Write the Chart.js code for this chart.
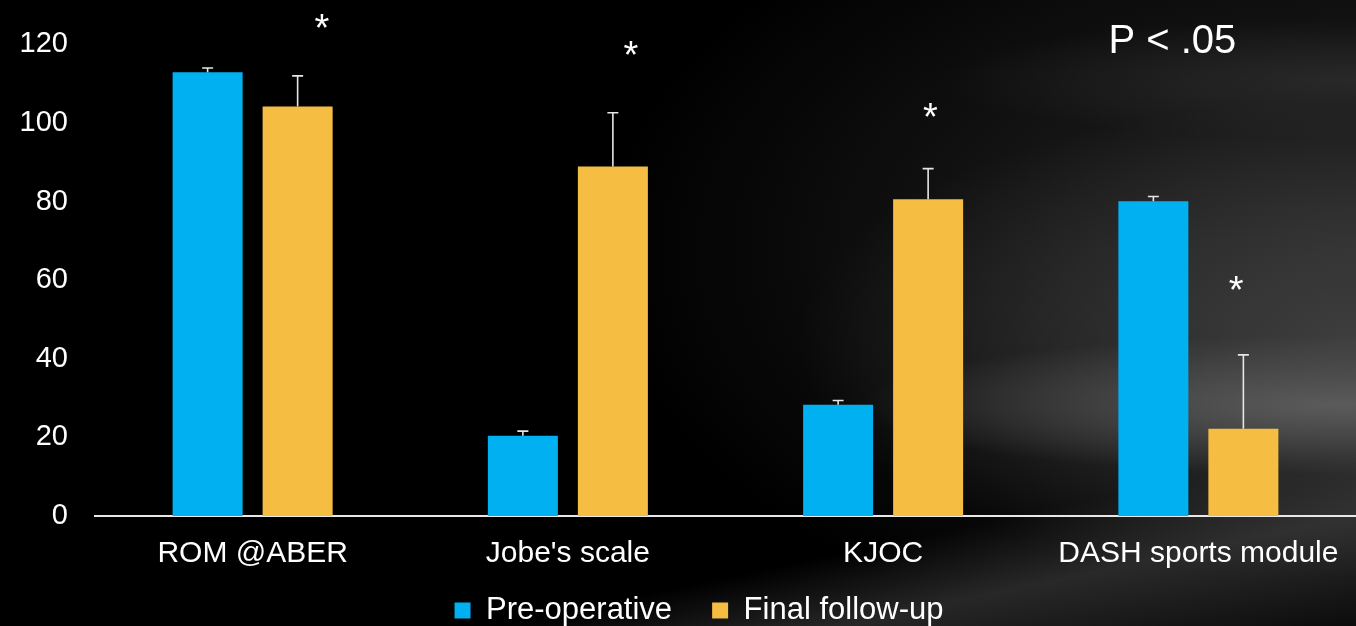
<!DOCTYPE html>
<html>
<head>
<meta charset="utf-8">
<script src="https://cdn.jsdelivr.net/npm/chart.js@4/dist/chart.umd.min.js"></script>
<style>
  html, body { margin: 0; padding: 0; }
  body {
    width: 1356px; height: 626px; overflow: hidden;
    background:
      linear-gradient(168deg, rgba(0,0,0,0) 0%, rgba(0,0,0,0) 80%, rgba(70,70,70,0.55) 88%, rgba(30,30,30,0.3) 100%),
      radial-gradient(ellipse 480px 70px at 1340px 405px, rgba(95,95,95,0.9), rgba(60,60,60,0) 100%),
      radial-gradient(ellipse 560px 240px at 1356px 340px, rgba(65,65,65,0.9), rgba(40,40,40,0) 100%),
      radial-gradient(ellipse 420px 60px at 1356px 80px, rgba(45,45,45,0.8), rgba(40,40,40,0) 100%),
      radial-gradient(ellipse 760px 420px at 1356px 250px, rgba(38,38,38,1), rgba(0,0,0,0) 100%),
      #000;
  }
  .wrap { position: relative; width: 1356px; height: 626px; }
</style>
</head>
<body>
<div class="wrap"><canvas id="chart"></canvas></div>
<script>
  var categories = ["ROM @ABER", "Jobe's scale", "KJOC", "DASH sports module"];
  var preOp = [112.9, 20.4, 28.3, 80.1];
  var finalFu = [104.2, 88.9, 80.6, 22.2];
  // upper error (SD) for each bar
  var preErr = [1.1, 1.2, 1.1, 1.2];
  var finalErr = [7.8, 13.7, 7.8, 18.8];
  // significance stars: x in category units, y in axis units
  var starX = [0.22, 1.20, 2.15, 3.12];
  var starY = [124.7, 117.7, 102.0, 58.0];
  var yTicks = [0, 20, 40, 60, 80, 100, 120];

  var font = "'Liberation Sans', Arial, sans-serif";

  // draws upward error bars, the stars and the p value note
  var extras = {
    id: "extras",
    afterLayout: function(chart) {
      // legend sits a little right of centre and higher in the original
      var lg = chart.legend;
      lg.left += 21;
      lg.right += 21;
      lg.top -= 29;
      lg.bottom -= 29;
    },
    afterDatasetsDraw: function(chart) {
      var ctx = chart.ctx;
      var y = chart.scales.y;
      var x = chart.scales.x;
      var errs = [preErr, finalErr];
      ctx.save();
      ctx.strokeStyle = "#e6e6e6";
      ctx.lineWidth = 1.6;
      for (var d = 0; d < 2; d++) {
        var meta = chart.getDatasetMeta(d);
        var vals = chart.data.datasets[d].data;
        meta.data.forEach(function(bar, i) {
          var top = y.getPixelForValue(vals[i] + errs[d][i]);
          var base = y.getPixelForValue(vals[i]);
          ctx.beginPath();
          ctx.moveTo(bar.x, base);
          ctx.lineTo(bar.x, top);
          ctx.moveTo(bar.x - 5.5, top);
          ctx.lineTo(bar.x + 5.5, top);
          ctx.stroke();
        });
      }
      ctx.fillStyle = "#ffffff";
      ctx.textAlign = "center";
      ctx.textBaseline = "alphabetic";
      ctx.font = "38px " + font;
      for (var i = 0; i < starX.length; i++) {
        ctx.fillText("*", x.getPixelForValue(starX[i]), y.getPixelForValue(starY[i]) + 15);
      }
      ctx.font = "40px " + font;
      ctx.textBaseline = "middle";
      ctx.fillText("P < .05", x.getPixelForValue(3) - 26, y.getPixelForValue(120.7));
      ctx.restore();
    }
  };

  new Chart(document.getElementById("chart"), {
    type: "bar",
    data: {
      labels: categories,
      datasets: [
        { label: "Pre-operative", data: preOp, backgroundColor: "#00B0F0" },
        { label: "Final follow-up", data: finalFu, backgroundColor: "#F5BD41" }
      ]
    },
    options: {
      responsive: true,
      maintainAspectRatio: false,
      animation: false,
      categoryPercentage: 0.571,
      barPercentage: 0.778,
      layout: { padding: { top: 41, right: 0, left: 0, bottom: -39 } },
      plugins: {
        tooltip: { enabled: false },
        legend: {
          position: "bottom",
          labels: {
            color: "#ffffff",
            font: { family: font, size: 31 },
            boxWidth: 16,
            boxHeight: 16,
            padding: 40
          }
        }
      },
      scales: {
        x: {
          grid: { display: false },
          border: { display: true, color: "#e8e8e8", width: 2 },
          ticks: {
            color: "#ffffff",
            font: { family: font, size: 30 },
            padding: 12,
            maxRotation: 0,
            autoSkip: false
          }
        },
        y: {
          min: 0,
          max: 120,
          afterBuildTicks: function(scale) {
            scale.ticks = yTicks.map(function(v) { return { value: v }; });
          },
          afterFit: function(scale) { scale.width = 95; },
          grid: { display: false, drawTicks: false },
          border: { display: false },
          ticks: {
            color: "#ffffff",
            font: { family: font, size: 29 },
            padding: 27
          }
        }
      }
    },
    plugins: [extras]
  });
</script>
</body>
</html>
